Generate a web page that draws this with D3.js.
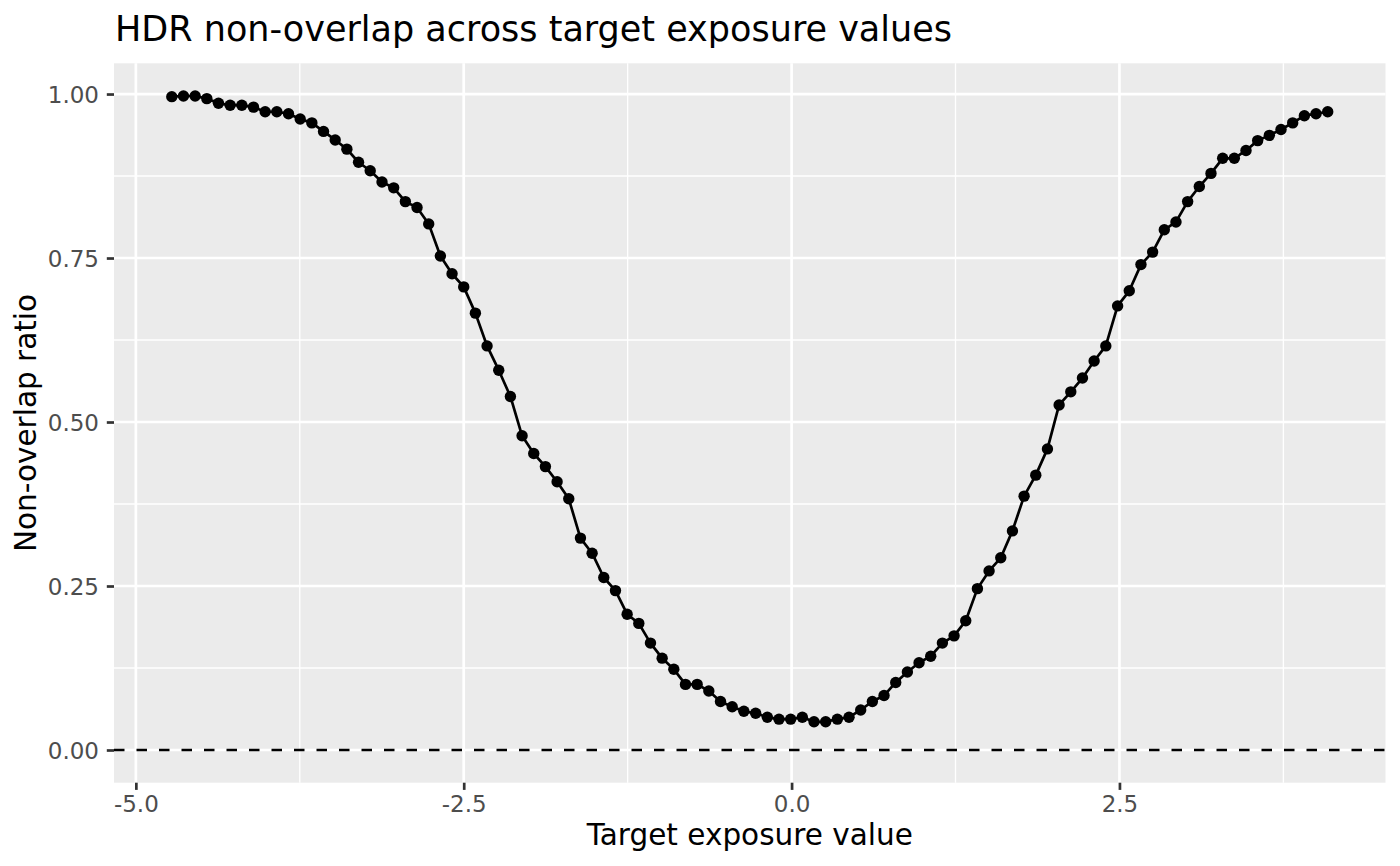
<!DOCTYPE html>
<html>
<head>
<meta charset="utf-8">
<script src="https://cdn.jsdelivr.net/npm/d3@7"></script>
<style>
  html, body { margin: 0; padding: 0; background: #fff; }
  svg { display: block; font-family: "DejaVu Sans", sans-serif; }
</style>
</head>
<body>
<svg id="chart" width="1400" height="866"></svg>
<script>
const titleText = "HDR non-overlap across target exposure values";
const xTitle = "Target exposure value";
const yTitle = "Non-overlap ratio";

const exposure = [
  -4.726, -4.637, -4.548, -4.459, -4.370, -4.281, -4.192, -4.103, -4.014, -3.925,
  -3.836, -3.747, -3.658, -3.569, -3.480, -3.391, -3.302, -3.213, -3.123, -3.034,
  -2.945, -2.856, -2.767, -2.678, -2.589, -2.500, -2.411, -2.322, -2.233, -2.144,
  -2.055, -1.966, -1.877, -1.788, -1.699, -1.610, -1.521, -1.432, -1.343, -1.254,
  -1.165, -1.076, -0.987, -0.898, -0.809, -0.720, -0.631, -0.542, -0.453, -0.364,
  -0.274, -0.185, -0.096, -0.007, 0.082, 0.171, 0.260, 0.349, 0.438, 0.527,
  0.616, 0.705, 0.794, 0.883, 0.972, 1.061, 1.150, 1.239, 1.328, 1.417,
  1.506, 1.595, 1.684, 1.773, 1.862, 1.951, 2.040, 2.129, 2.218, 2.307,
  2.396, 2.486, 2.575, 2.664, 2.753, 2.842, 2.931, 3.020, 3.109, 3.198,
  3.287, 3.376, 3.465, 3.554, 3.643, 3.732, 3.821, 3.910, 3.999, 4.088
];

const nonOverlap = [
  0.996, 0.997, 0.997, 0.993, 0.986, 0.983, 0.983, 0.980, 0.973, 0.973,
  0.970, 0.962, 0.956, 0.943, 0.930, 0.916, 0.896, 0.883, 0.866, 0.857,
  0.836, 0.827, 0.802, 0.753, 0.726, 0.706, 0.666, 0.616, 0.579, 0.539,
  0.479, 0.452, 0.432, 0.409, 0.383, 0.323, 0.300, 0.263, 0.243, 0.207,
  0.193, 0.163, 0.140, 0.123, 0.100, 0.100, 0.090, 0.074, 0.066, 0.059,
  0.056, 0.050, 0.047, 0.047, 0.050, 0.043, 0.043, 0.047, 0.050, 0.061,
  0.074, 0.083, 0.103, 0.119, 0.133, 0.143, 0.163, 0.174, 0.197, 0.246,
  0.273, 0.293, 0.334, 0.387, 0.419, 0.459, 0.526, 0.546, 0.567, 0.593,
  0.616, 0.677, 0.700, 0.740, 0.759, 0.793, 0.805, 0.836, 0.859, 0.879,
  0.902, 0.902, 0.914, 0.929, 0.937, 0.946, 0.956, 0.967, 0.970, 0.973
];

const xTicks = [-5.0, -2.5, 0.0, 2.5];
const xMinor = [-3.75, -1.25, 1.25, 3.75];
const yTicks = [0.00, 0.25, 0.50, 0.75, 1.00];
const yMinor = [0.125, 0.375, 0.625, 0.875];
const refLine = 0;

const data = exposure.map((x, i) => ({ x, y: nonOverlap[i] }));

const panel = { left: 114, right: 1385.5, top: 63.3, bottom: 782.7 };

function expand(lo, hi, m) { const d = (hi - lo) * m; return [lo - d, hi + d]; }

const xExt = d3.extent(exposure);
const yExt = [Math.min(refLine, d3.min(nonOverlap)), Math.max(refLine, d3.max(nonOverlap))];

const x = d3.scaleLinear().domain(expand(xExt[0], xExt[1], 0.05)).range([panel.left, panel.right]);
const y = d3.scaleLinear().domain(expand(yExt[0], yExt[1], 0.05)).range([panel.bottom, panel.top]);

const svg = d3.select("#chart");
const W = panel.right - panel.left, H = panel.bottom - panel.top;

svg.append("rect")
  .attr("x", panel.left).attr("y", panel.top)
  .attr("width", W).attr("height", H)
  .attr("fill", "#EBEBEB");

const grid = svg.append("g");
grid.selectAll(".xminor").data(xMinor).join("line")
  .attr("class", "xminor")
  .attr("x1", d => x(d)).attr("x2", d => x(d))
  .attr("y1", panel.top).attr("y2", panel.bottom)
  .attr("stroke", "#fff").attr("stroke-width", 1.35);
grid.selectAll(".yminor").data(yMinor).join("line")
  .attr("class", "yminor")
  .attr("y1", d => y(d)).attr("y2", d => y(d))
  .attr("x1", panel.left).attr("x2", panel.right)
  .attr("stroke", "#fff").attr("stroke-width", 1.35);
grid.selectAll(".xmajor").data(xTicks).join("line")
  .attr("class", "xmajor")
  .attr("x1", d => x(d)).attr("x2", d => x(d))
  .attr("y1", panel.top).attr("y2", panel.bottom)
  .attr("stroke", "#fff").attr("stroke-width", 2.7);
grid.selectAll(".ymajor").data(yTicks).join("line")
  .attr("class", "ymajor")
  .attr("y1", d => y(d)).attr("y2", d => y(d))
  .attr("x1", panel.left).attr("x2", panel.right)
  .attr("stroke", "#fff").attr("stroke-width", 2.7);

svg.append("line")
  .attr("x1", panel.left).attr("x2", panel.right)
  .attr("y1", y(refLine)).attr("y2", y(refLine))
  .attr("stroke", "#000").attr("stroke-width", 2.7)
  .attr("stroke-dasharray", "10.5,12");

svg.append("path")
  .datum(data)
  .attr("fill", "none")
  .attr("stroke", "#000")
  .attr("stroke-width", 2.7)
  .attr("stroke-linejoin", "round")
  .attr("d", d3.line().x(d => x(d.x)).y(d => y(d.y)));

svg.append("g").selectAll("circle").data(data).join("circle")
  .attr("cx", d => x(d.x)).attr("cy", d => y(d.y))
  .attr("r", 5.7).attr("fill", "#000");

const xAxis = d3.axisBottom(x).tickValues(xTicks).tickSize(7.2);
const yAxis = d3.axisLeft(y).tickValues(yTicks).tickSize(7.2);

const gx = svg.append("g").attr("transform", `translate(0,${panel.bottom})`).call(xAxis);
const gy = svg.append("g").attr("transform", `translate(${panel.left},0)`).call(yAxis);

[gx, gy].forEach(g => {
  g.select(".domain").remove();
  g.selectAll(".tick line").attr("stroke", "#333333").attr("stroke-width", 2.7);
  g.selectAll(".tick text").attr("fill", "#4D4D4D").attr("font-size", "23px")
    .attr("font-family", "DejaVu Sans, sans-serif");
});
gx.selectAll(".tick text")
  .attr("y", 29.8).attr("dy", 0)
  .text(d => d3.format(".1f")(d).replace("\u2212", "-"));
gy.selectAll(".tick text")
  .attr("x", -15).attr("dy", "0.36em")
  .text(d => d3.format(".2f")(d).replace("\u2212", "-"));

svg.append("text")
  .attr("x", 115).attr("y", 40.7)
  .attr("font-size", "35px").attr("fill", "#000")
  .text(titleText);

svg.append("text")
  .attr("x", (panel.left + panel.right) / 2).attr("y", 845)
  .attr("text-anchor", "middle")
  .attr("font-size", "29.5px").attr("fill", "#000")
  .text(xTitle);

svg.append("text")
  .attr("transform", `translate(36,${(panel.top + panel.bottom) / 2}) rotate(-90)`)
  .attr("text-anchor", "middle")
  .attr("font-size", "29.5px").attr("fill", "#000")
  .text(yTitle);
</script>
</body>
</html>
